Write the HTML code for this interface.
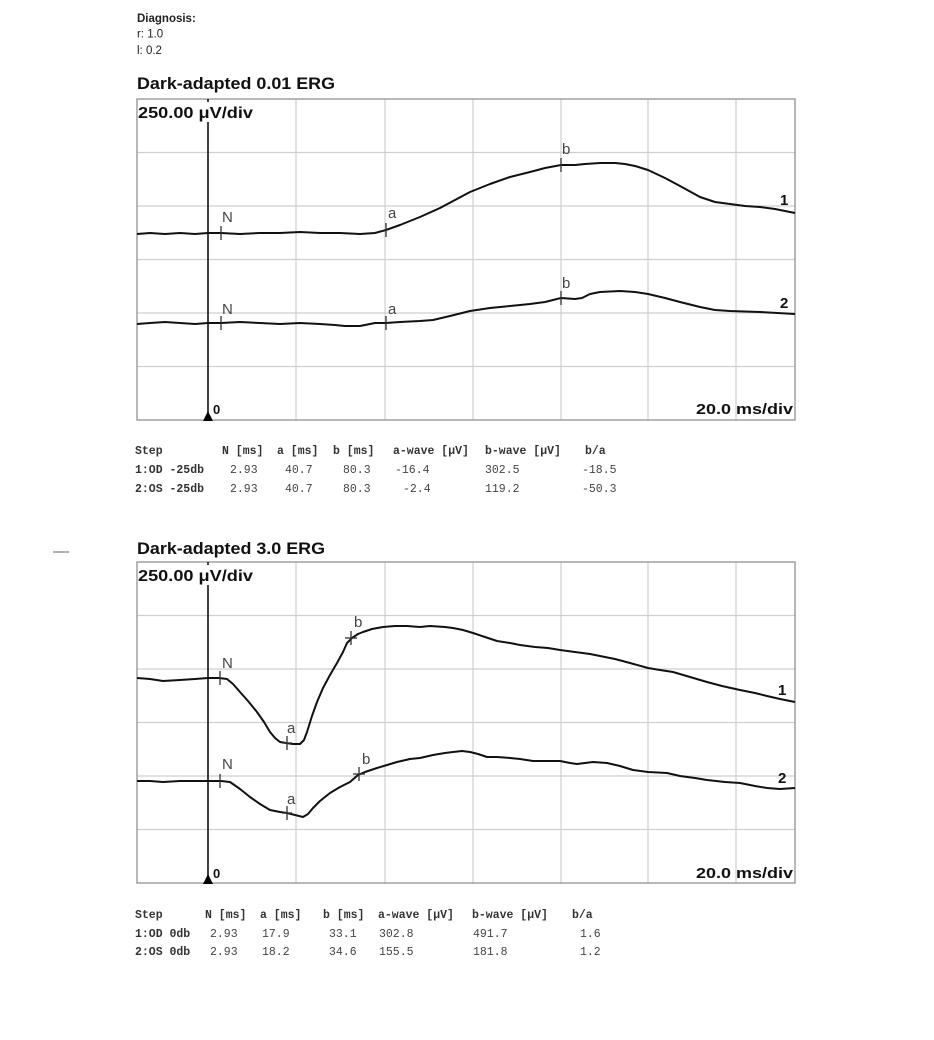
<!DOCTYPE html>
<html><head><meta charset="utf-8"><style>
html,body{margin:0;padding:0;background:#fff;}
svg{display:block;}
text{font-family:"Liberation Sans",sans-serif;}
.mono text{font-family:"Liberation Mono",monospace;font-size:11.5px;}
.h{font-weight:bold;fill:#333;}
.v{fill:#444;}
.lbl{font-size:15px;fill:#444;}
.tr{fill:none;stroke:#111;stroke-width:2;stroke-linejoin:round;}
.grid{stroke:#cfcfcf;stroke-width:1.2;}
.frame{fill:none;stroke:#999;stroke-width:1.4;}
.tick{stroke:#333;stroke-width:1.3;}
</style></head><body>
<svg width="934" height="1040" viewBox="0 0 934 1040" xmlns="http://www.w3.org/2000/svg">
<rect width="934" height="1040" fill="#fff"/>
<!-- Diagnosis -->
<text x="137" y="22" font-size="11.5" font-weight="bold" fill="#222">Diagnosis:</text>
<text x="137" y="37.5" font-size="11.5" fill="#222">r: 1.0</text>
<text x="137" y="54" font-size="11.5" fill="#222">l: 0.2</text>

<!-- ============ TOP CHART ============ -->
<text x="137" y="89" font-size="16.5" font-weight="bold" fill="#111" textLength="198" lengthAdjust="spacingAndGlyphs">Dark-adapted 0.01 ERG</text>
<g class="grid">
<line x1="296" y1="99" x2="296" y2="420"/><line x1="385" y1="99" x2="385" y2="420"/>
<line x1="473" y1="99" x2="473" y2="420"/><line x1="561" y1="99" x2="561" y2="420"/>
<line x1="648" y1="99" x2="648" y2="420"/><line x1="736" y1="99" x2="736" y2="420"/>
<line x1="137" y1="152.5" x2="795" y2="152.5"/><line x1="137" y1="206" x2="795" y2="206"/>
<line x1="137" y1="259.5" x2="795" y2="259.5"/><line x1="137" y1="313" x2="795" y2="313"/>
<line x1="137" y1="366.5" x2="795" y2="366.5"/>
</g>
<rect class="frame" x="137" y="99" width="658" height="321"/>
<line x1="208" y1="99" x2="208" y2="414" stroke="#111" stroke-width="1.6"/>
<polygon points="208,411 203,421 213,421" fill="#000"/>
<rect x="139" y="102" width="118" height="20" fill="#fff"/>
<text x="138" y="118" font-size="16" font-weight="bold" fill="#111" textLength="115" lengthAdjust="spacingAndGlyphs">250.00 μV/div</text>
<text x="213" y="414" font-size="13" font-weight="bold" fill="#111">0</text>
<text x="696" y="414" font-size="15" font-weight="bold" fill="#111" textLength="97" lengthAdjust="spacingAndGlyphs">20.0 ms/div</text>

<polyline class="tr" points="137,234 150,233 165,234 180,233 195,234 208,233 221,233 240,234 260,233 280,233 300,232 320,233 340,233 360,234 375,233 386,230 400,225 420,217 440,208 455,200 470,192 490,184 510,177 530,172 545,168 561,165 575,165 585,164 600,163 615,163 625,164 635,166 648,170 665,178 680,186 700,197 715,202 730,204 745,206 760,207 775,209 785,211 795,213"/>
<polyline class="tr" points="137,324 150,323 165,322 180,323 195,324 208,323 221,323 240,322 260,323 280,324 300,323 320,324 335,325 345,326 360,326 375,323 386,323 400,322 420,321 433,320 450,316 470,311 490,308 510,306 530,304 545,302 561,298 575,299 582,298 590,294 600,292 620,291 635,292 648,294 665,298 680,302 700,307 715,310 730,311 760,312 795,314"/>
<g class="tick">
<line x1="221" y1="226" x2="221" y2="240"/><line x1="386" y1="223" x2="386" y2="237"/><line x1="561" y1="158" x2="561" y2="172"/>
<line x1="221" y1="316" x2="221" y2="330"/><line x1="386" y1="316" x2="386" y2="330"/><line x1="561" y1="291" x2="561" y2="305"/>
</g>
<text class="lbl" x="222" y="222">N</text><text class="lbl" x="388" y="218">a</text><text class="lbl" x="562" y="154">b</text>
<text class="lbl" x="222" y="314">N</text><text class="lbl" x="388" y="314">a</text><text class="lbl" x="562" y="288">b</text>
<text x="780" y="205" font-size="15" font-weight="bold" fill="#111">1</text>
<text x="780" y="308" font-size="15" font-weight="bold" fill="#111">2</text>

<!-- Table 1 -->
<g class="mono">
<text class="h" x="135" y="454">Step</text>
<text class="h" x="222" y="454">N [ms]</text>
<text class="h" x="277" y="454">a [ms]</text>
<text class="h" x="333" y="454">b [ms]</text>
<text class="h" x="393" y="454">a-wave [µV]</text>
<text class="h" x="485" y="454">b-wave [µV]</text>
<text class="h" x="585" y="454">b/a</text>
<text class="h" x="135" y="473">1:OD -25db</text>
<text class="v" x="230" y="473">2.93</text><text class="v" x="285" y="473">40.7</text><text class="v" x="343" y="473">80.3</text>
<text class="v" x="395" y="473">-16.4</text><text class="v" x="485" y="473">302.5</text><text class="v" x="582" y="473">-18.5</text>
<text class="h" x="135" y="492">2:OS -25db</text>
<text class="v" x="230" y="492">2.93</text><text class="v" x="285" y="492">40.7</text><text class="v" x="343" y="492">80.3</text>
<text class="v" x="403" y="492">-2.4</text><text class="v" x="485" y="492">119.2</text><text class="v" x="582" y="492">-50.3</text>
</g>

<line x1="53" y1="552" x2="69" y2="552" stroke="#888" stroke-width="1.3"/>

<!-- ============ BOTTOM CHART ============ -->
<text x="137" y="554" font-size="16.5" font-weight="bold" fill="#111" textLength="188" lengthAdjust="spacingAndGlyphs">Dark-adapted 3.0 ERG</text>
<g class="grid">
<line x1="296" y1="562" x2="296" y2="883"/><line x1="385" y1="562" x2="385" y2="883"/>
<line x1="473" y1="562" x2="473" y2="883"/><line x1="561" y1="562" x2="561" y2="883"/>
<line x1="648" y1="562" x2="648" y2="883"/><line x1="736" y1="562" x2="736" y2="883"/>
<line x1="137" y1="615.5" x2="795" y2="615.5"/><line x1="137" y1="669" x2="795" y2="669"/>
<line x1="137" y1="722.5" x2="795" y2="722.5"/><line x1="137" y1="776" x2="795" y2="776"/>
<line x1="137" y1="829.5" x2="795" y2="829.5"/>
</g>
<rect class="frame" x="137" y="562" width="658" height="321"/>
<line x1="208" y1="562" x2="208" y2="877" stroke="#111" stroke-width="1.6"/>
<polygon points="208,874 203,884 213,884" fill="#000"/>
<rect x="139" y="565" width="118" height="20" fill="#fff"/>
<text x="138" y="581" font-size="16" font-weight="bold" fill="#111" textLength="115" lengthAdjust="spacingAndGlyphs">250.00 μV/div</text>
<text x="213" y="878" font-size="13" font-weight="bold" fill="#111">0</text>
<text x="696" y="878" font-size="15" font-weight="bold" fill="#111" textLength="97" lengthAdjust="spacingAndGlyphs">20.0 ms/div</text>

<polyline class="tr" points="137,678 150,679 163,681 180,680 195,679 208,678 219,678 227,679 233,684 240,692 248,701 257,712 264,722 270,732 275,738 280,742 286,743 293,744 300,744 304,740 307,732 312,716 317,702 323,688 330,675 337,663 343,652 347,643 352,638 358,634 363,632 372,629 383,627 395,626 407,626 420,627 430,626 445,627 453,628 463,630 473,633 485,637 497,641 510,643 520,645 535,647 548,648 560,650 575,652 590,654 600,656 615,659 630,663 648,668 660,670 673,672 690,677 707,682 722,686 740,690 755,693 767,696 780,699 795,702"/>
<polyline class="tr" points="137,781 150,781 163,782 180,781 195,781 208,781 221,781 230,782 240,789 250,797 260,804 270,810 280,812 287,813 295,815 303,817 308,814 313,808 320,801 330,793 340,787 350,782 358,775 365,772 377,768 387,765 397,762 410,759 420,758 433,755 445,753 453,752 462,751 470,752 478,754 487,757 497,757 510,758 520,759 533,761 545,761 560,761 570,763 577,764 585,763 593,762 607,763 620,766 633,770 648,772 667,773 680,776 695,778 707,780 725,782 740,783 755,786 767,788 780,789 795,788"/>
<g class="tick">
<line x1="220" y1="671" x2="220" y2="685"/>
<line x1="287" y1="736" x2="287" y2="750"/><line x1="282" y1="743" x2="292" y2="743"/>
<line x1="351" y1="631" x2="351" y2="645"/><line x1="345" y1="638" x2="357" y2="638"/>
<line x1="220" y1="774" x2="220" y2="788"/>
<line x1="287" y1="806" x2="287" y2="820"/><line x1="282" y1="813" x2="292" y2="813"/>
<line x1="359" y1="767" x2="359" y2="781"/><line x1="353" y1="774" x2="365" y2="774"/>
</g>
<text class="lbl" x="222" y="668">N</text><text class="lbl" x="287" y="733">a</text><text class="lbl" x="354" y="627">b</text>
<text class="lbl" x="222" y="769">N</text><text class="lbl" x="287" y="804">a</text><text class="lbl" x="362" y="764">b</text>
<text x="778" y="695" font-size="15" font-weight="bold" fill="#111">1</text>
<text x="778" y="783" font-size="15" font-weight="bold" fill="#111">2</text>

<!-- Table 2 -->
<g class="mono">
<text class="h" x="135" y="918">Step</text>
<text class="h" x="205" y="918">N [ms]</text>
<text class="h" x="260" y="918">a [ms]</text>
<text class="h" x="323" y="918">b [ms]</text>
<text class="h" x="378" y="918">a-wave [µV]</text>
<text class="h" x="472" y="918">b-wave [µV]</text>
<text class="h" x="572" y="918">b/a</text>
<text class="h" x="135" y="937">1:OD 0db</text>
<text class="v" x="210" y="937">2.93</text><text class="v" x="262" y="937">17.9</text><text class="v" x="329" y="937">33.1</text>
<text class="v" x="379" y="937">302.8</text><text class="v" x="473" y="937">491.7</text><text class="v" x="580" y="937">1.6</text>
<text class="h" x="135" y="955">2:OS 0db</text>
<text class="v" x="210" y="955">2.93</text><text class="v" x="262" y="955">18.2</text><text class="v" x="329" y="955">34.6</text>
<text class="v" x="379" y="955">155.5</text><text class="v" x="473" y="955">181.8</text><text class="v" x="580" y="955">1.2</text>
</g>
</svg>
</body></html>
